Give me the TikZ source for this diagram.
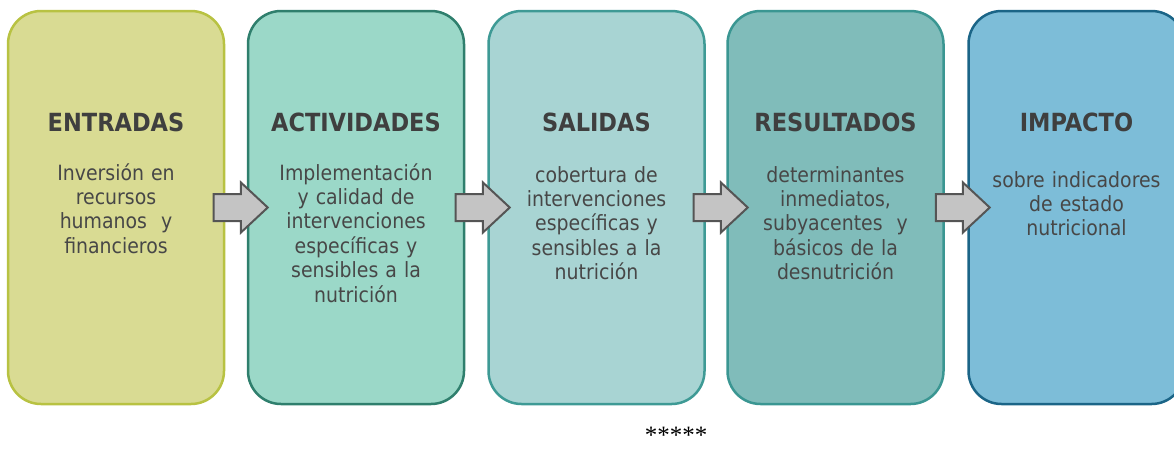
\documentclass[tikz,border=0pt]{standalone}
\usepackage{fontspec}
\setmainfont{DejaVu Sans Condensed}
\newfontfamily\starfont{Liberation Serif}
\usetikzlibrary{shapes.arrows}
\definecolor{f1}{HTML}{D9DB93}\definecolor{d1}{HTML}{B8C242}
\definecolor{f2}{HTML}{9BD8C8}\definecolor{d2}{HTML}{2F7F6D}
\definecolor{f3}{HTML}{A8D4D3}\definecolor{d3}{HTML}{3E9A95}
\definecolor{f4}{HTML}{80BCBA}\definecolor{d4}{HTML}{3A9692}
\definecolor{f5}{HTML}{7DBDD8}\definecolor{d5}{HTML}{1B6587}
\definecolor{ttl}{HTML}{3F3F3F}
\definecolor{bdy}{HTML}{474747}
\definecolor{arf}{HTML}{C4C4C4}
\definecolor{ard}{HTML}{555555}
\tikzset{
  stagebox/.style={draw, rounded corners=33pt, line width=2.5pt, minimum width=216pt, minimum height=393pt, inner sep=0pt},
  stagetitle/.style={anchor=base, inner sep=0pt, text=ttl, font=\fontsize{25}{30}\selectfont\bfseries},
  stagebody/.style={anchor=base, inner sep=0pt, text=bdy, text width=210pt, align=center, font=\fontsize{21}{24.4}\selectfont},
  flowarrow/.style={single arrow, draw=ard, fill=arf, line width=2pt, inner xsep=0pt, inner ysep=12.5pt, minimum height=54pt, single arrow head extend=11.5pt, single arrow tip angle=86, anchor=center}
}
\begin{document}
\begin{tikzpicture}[x=1pt,y=-1pt]
\useasboundingbox (0,0) rectangle (1174,448);
\node[stagebox, fill=f1, draw=d1] (b1) at (116,207.5) {};
\node[stagebox, fill=f2, draw=d2] (b2) at (356,207.5) {};
\node[stagebox, fill=f3, draw=d3] (b3) at (596.5,207.5) {};
\node[stagebox, fill=f4, draw=d4] (b4) at (835.5,207.5) {};
\node[stagebox, fill=f5, draw=d5] (b5) at (1076.5,207.5) {};
\node[stagetitle] (t1) at (116,131) {ENTRADAS};
\node[stagetitle] (t2) at (356,131) {ACTIVIDADES};
\node[stagetitle] (t3) at (596.5,131) {SALIDAS};
\node[stagetitle] (t4) at (835.5,131) {RESULTADOS};
\node[stagetitle] (t5) at (1076.5,131) {IMPACTO};
\node[stagebody] (x1) at (116,180) {Inversión en\\recursos\\humanos\ \ y\\financieros};
\node[stagebody] (x2) at (356,180) {Implementación\\y calidad de\\intervenciones\\específicas y\\sensibles a la\\nutrición};
\node[stagebody] (x3) at (596.5,182) {cobertura de\\intervenciones\\específicas y\\sensibles a la\\nutrición};
\node[stagebody] (x4) at (835.5,182) {determinantes\\inmediatos,\\subyacentes\ \ y\\básicos de la\\desnutrición};
\node[stagebody] (x5) at (1076.5,187) {sobre indicadores\\de estado\\nutricional};
\node[flowarrow] (a1) at (233.5,207.5) {};
\node[flowarrow] (a2) at (475.5,207.5) {};
\node[flowarrow] (a3) at (713.5,207.5) {};
\node[flowarrow] (a4) at (955.5,207.5) {};
\node[anchor=base, inner sep=0pt, font=\starfont\fontsize{25}{30}\selectfont] (st) at (676,443) {*****};
\end{tikzpicture}
\end{document}
